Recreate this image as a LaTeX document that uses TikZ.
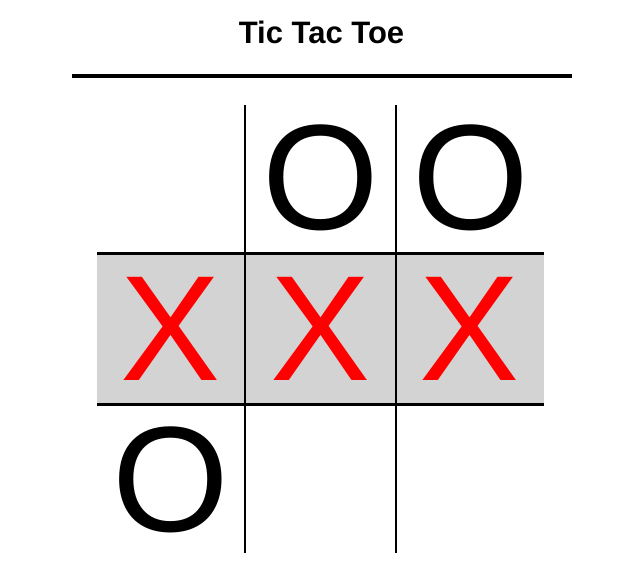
\documentclass[tikz,border=0pt]{standalone}
\usepackage{fontspec}
\setmainfont{Liberation Sans}
\definecolor{cellgray}{HTML}{D3D3D3}
\definecolor{xred}{HTML}{FF0000}
\begin{document}
\begin{tikzpicture}[x=1pt,y=-1pt,
  gridline/.style={line width=2.7pt,black},
  mark O/.style={anchor=base,inner sep=0pt,font=\fontsize{150}{150}\selectfont,text=black},
  mark X/.style={anchor=base,inner sep=0pt,font=\fontsize{150}{150}\selectfont,text=xred},
  titletext/.style={anchor=base,inner sep=0pt,font=\fontsize{31}{31}\selectfont\bfseries}]
\useasboundingbox (0,0) rectangle (636,575);
% title and rule
\node[titletext] (title) at (321.5,44) {Tic Tac Toe};
\draw[line width=3.3pt] (72,76) -- (572,76);
% shaded middle row
\fill[cellgray] (97,254) rectangle (544,404);
% grid
\draw[gridline] (245,105) -- (245,252.6);
\draw[gridline] (396,105) -- (396,252.6);
\draw[gridline] (245,255.4) -- (245,403);
\draw[gridline] (396,255.4) -- (396,403);
\draw[gridline] (245,406) -- (245,553);
\draw[gridline] (396,406) -- (396,553);
\draw[gridline] (97,253.8) -- (544,253.8);
\draw[gridline] (97,404.6) -- (544,404.6);
% marks
\node[mark O] (o12) at (321.3,229.8) {O};
\node[mark O] (o13) at (471.3,229.8) {O};
\node[mark X] (x21) at (170.5,380.7) {X};
\node[mark X] (x22) at (320.5,380.7) {X};
\node[mark X] (x23) at (470,380.7) {X};
\node[mark O] (o31) at (171.3,531.4) {O};
\end{tikzpicture}
\end{document}
